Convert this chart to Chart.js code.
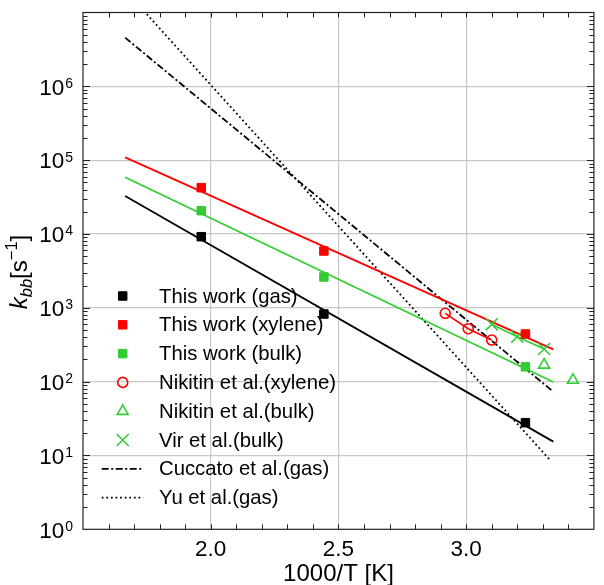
<!DOCTYPE html>
<html><head><meta charset="utf-8">
<script src="https://cdn.jsdelivr.net/npm/chart.js@4/dist/chart.umd.min.js"></script>
<style>html,body{margin:0;padding:0;background:#fff}#wrap{width:604px;height:585px;position:relative}</style>
</head><body><div id="wrap"><canvas id="c" width="604" height="585"></canvas></div>
<script>
// ---------- data ----------
const gasX = [1.963, 2.443, 3.232];
const gasY = [9190, 824, 27.8];
const xylX = [1.963, 2.443, 3.232];
const xylY = [42360, 5880, 442];
const bulkX = [1.963, 2.443, 3.232];
const bulkY = [20670, 2614, 159];
const nikXylX = [2.918, 3.008, 3.100];
const nikXylY = [843, 521, 366];
const nikBulkX = [3.305, 3.418];
const nikBulkY = [168, 105];
const virX = [3.100, 3.200, 3.305];
const virY = [598, 406, 277];
const fitX = [1.665, 3.341];
const fitGasY = [32700, 15.4];
const fitXylY = [109300, 274];
const fitBulkY = [58600, 98.9];
const cuccX = [1.665, 3.341];
const cuccY = [4.56e6, 73.1];
const yuX = [1.665, 3.332];
const yuY = [2.0e7, 8.4];

const xMin = 1.5, xMax = 3.5;
const yMin = 1, yMax = 1e7;
const xTicks = [2.0, 2.5, 3.0];
const xTickLabels = ['2.0', '2.5', '3.0'];
const xMinorStep = 0.1;
const yExponents = [0, 1, 2, 3, 4, 5, 6];
const yTickBase = '10';
const xTitle = '1000/T [K]';
const legendLabels = ['This work (gas)', 'This work (xylene)', 'This work (bulk)',
  'Nikitin et al.(xylene)', 'Nikitin et al.(bulk)', 'Vir et al.(bulk)',
  'Cuccato et al.(gas)', 'Yu et al.(gas)'];

// ---------- styles ----------
const RED = '#ff0000', GREEN = '#33cc33', BLACK = '#000000';
const FONT = '"Liberation Sans", Arial, Helvetica, sans-serif';
const zip = (xs, ys) => xs.map((x, i) => ({x: x, y: ys[i]}));

const datasets = [
  {label: legendLabels[0], data: zip(gasX, gasY), pointStyle: 'rect', pointRadius: 6, backgroundColor: BLACK, borderColor: BLACK, borderWidth: 1, showLine: false, legendIdx: 0},
  {label: legendLabels[1], data: zip(xylX, xylY), pointStyle: 'rect', pointRadius: 6, backgroundColor: RED, borderColor: RED, borderWidth: 1, showLine: false, legendIdx: 1},
  {label: legendLabels[2], data: zip(bulkX, bulkY), pointStyle: 'rect', pointRadius: 6, backgroundColor: GREEN, borderColor: GREEN, borderWidth: 1, showLine: false, legendIdx: 2},
  {label: legendLabels[3], data: zip(nikXylX, nikXylY), pointStyle: 'circle', pointRadius: 5, backgroundColor: 'rgba(0,0,0,0)', borderColor: RED, pointBorderWidth: 1.6, borderWidth: 1.6, showLine: true, legendIdx: 3},
  {label: legendLabels[4], data: zip(nikBulkX, nikBulkY), pointStyle: 'triangle', pointRadius: 6.3, backgroundColor: 'rgba(0,0,0,0)', borderColor: GREEN, borderWidth: 1.6, showLine: false, legendIdx: 4},
  {label: legendLabels[5], data: zip(virX, virY), pointStyle: 'crossRot', pointRadius: 8.5, backgroundColor: 'rgba(0,0,0,0)', borderColor: GREEN, pointBorderWidth: 1.6, borderWidth: 1.6, showLine: true, legendIdx: 5},
  {label: 'fit gas', data: zip(fitX, fitGasY), pointRadius: 0, borderColor: BLACK, borderWidth: 1.8, showLine: true},
  {label: 'fit xylene', data: zip(fitX, fitXylY), pointRadius: 0, borderColor: RED, borderWidth: 1.8, showLine: true},
  {label: 'fit bulk', data: zip(fitX, fitBulkY), pointRadius: 0, borderColor: GREEN, borderWidth: 1.8, showLine: true},
  {label: legendLabels[6], data: zip(cuccX, cuccY), pointRadius: 0, borderColor: BLACK, borderWidth: 1.8, borderDash: [7, 2.5, 2, 2.5], showLine: true, legendIdx: 6},
  {label: legendLabels[7], data: zip(yuX, yuY), pointRadius: 0, borderColor: BLACK, borderWidth: 1.8, borderDash: [1.8, 2.8], showLine: true, clip: 0, legendIdx: 7}
];

function drawMarker(ctx, ds, x, y) {
  const r = ds.pointRadius;
  ctx.save();
  ctx.fillStyle = ds.backgroundColor;
  ctx.strokeStyle = ds.borderColor;
  ctx.lineWidth = ds.pointBorderWidth || ds.borderWidth;
  if (Chart.helpers && Chart.helpers.drawPoint) {
    Chart.helpers.drawPoint(ctx, {pointStyle: ds.pointStyle, radius: r, rotation: 0, borderWidth: ctx.lineWidth}, x, y);
  }
  ctx.restore();
}

const deco = {
  id: 'deco',
  afterDraw(chart) {
    const ctx = chart.ctx, a = chart.chartArea;
    const xs = chart.scales.x, ys = chart.scales.y;
    ctx.save();
    // minor / major ticks (inward)
    ctx.strokeStyle = '#222';
    ctx.lineWidth = 1;
    ctx.beginPath();
    for (let v = xMin + xMinorStep; v < xMax - 1e-9; v += xMinorStep) {
      const px = Math.round(xs.getPixelForValue(v)) + 0.5;
      ctx.moveTo(px, a.bottom); ctx.lineTo(px, a.bottom - 5);
      ctx.moveTo(px, a.top); ctx.lineTo(px, a.top + 5);
    }
    for (let n = 0; n < 7; n++) {
      for (let k = 1; k <= 9; k++) {
        const v = k * Math.pow(10, n);
        if (v <= yMin) continue;
        const py = Math.round(ys.getPixelForValue(v)) + 0.5;
        const len = (k === 1) ? 7 : 4.5;
        ctx.moveTo(a.left, py); ctx.lineTo(a.left + len, py);
        ctx.moveTo(a.right, py); ctx.lineTo(a.right - len, py);
      }
    }
    ctx.stroke();
    // frame
    ctx.strokeStyle = '#222';
    ctx.lineWidth = 1.2;
    ctx.strokeRect(a.left, a.top, a.right - a.left, a.bottom - a.top);

    ctx.fillStyle = '#000';
    // y tick labels 10^n
    yExponents.forEach(n => {
      const py = ys.getPixelForValue(Math.pow(10, n));
      ctx.font = '22.5px ' + FONT;
      const w1 = ctx.measureText(yTickBase).width;
      ctx.font = '14px ' + FONT;
      const e = String(n);
      const w2 = ctx.measureText(e).width;
      const right = 73;
      ctx.textAlign = 'left';
      ctx.textBaseline = 'alphabetic';
      ctx.font = '22.5px ' + FONT;
      ctx.fillText(yTickBase, right - w2 - 1 - w1, py + 8.3);
      ctx.font = '14px ' + FONT;
      ctx.fillText(e, right - w2, py + 1.5);
    });
    // x tick labels
    ctx.font = '22.5px ' + FONT;
    ctx.textAlign = 'center';
    ctx.textBaseline = 'alphabetic';
    xTicks.forEach((v, i) => {
      ctx.fillText(xTickLabels[i], xs.getPixelForValue(v), 555.5);
    });
    // x title
    ctx.font = '24px ' + FONT;
    ctx.fillText(xTitle, (a.left + a.right) / 2, 581);

    // y title: k_bb [s^-1]
    const parts = [
      {t: 'k', f: 'italic 24px ' + FONT, dy: 0},
      {t: 'bb', f: 'italic 16.5px ' + FONT, dy: 5},
      {t: '[s', f: '24px ' + FONT, dy: 0},
      {t: '\u22121', f: '16.5px ' + FONT, dy: -10},
      {t: ']', f: '24px ' + FONT, dy: 0}
    ];
    let tot = 0;
    parts.forEach(p => { ctx.font = p.f; p.w = ctx.measureText(p.t).width; tot += p.w; });
    ctx.save();
    ctx.translate(27, 272);
    ctx.rotate(-Math.PI / 2);
    ctx.textAlign = 'left';
    let cx = -tot / 2;
    parts.forEach(p => { ctx.font = p.f; ctx.fillText(p.t, cx, p.dy); cx += p.w; });
    ctx.restore();

    // legend
    const y0 = 296, dy = 28.8, mx = 122.7, tx = 159, l0 = 101.7, l1 = 143.3;
    ctx.font = '20.3px ' + FONT;
    ctx.textAlign = 'left';
    ctx.textBaseline = 'middle';
    chart.data.datasets.forEach(ds => {
      if (ds.legendIdx === undefined) return;
      const ly = y0 + ds.legendIdx * dy;
      if (ds.pointRadius > 0) {
        drawMarker(ctx, ds, mx, ly);
      } else {
        ctx.save();
        ctx.strokeStyle = ds.borderColor;
        ctx.lineWidth = ds.borderWidth;
        ctx.setLineDash(ds.borderDash || []);
        ctx.beginPath(); ctx.moveTo(l0, ly); ctx.lineTo(l1, ly); ctx.stroke();
        ctx.restore();
      }
      ctx.fillStyle = '#000';
      ctx.fillText(ds.label, tx, ly + 1);
    });
    ctx.restore();
  }
};

Chart.defaults.font.family = FONT;
new Chart(document.getElementById('c'), {
  type: 'scatter',
  data: {datasets: datasets},
  options: {
    responsive: false,
    animation: false,
    devicePixelRatio: 1,
    layout: {padding: {left: 83, top: 12.5, right: 1, bottom: 55.7}},
    plugins: {legend: {display: false}, tooltip: {enabled: false}},
    scales: {
      x: {
        type: 'linear', min: xMin, max: xMax,
        ticks: {display: false},
        border: {display: false},
        grid: {color: '#c8c8c8', lineWidth: 1.2, drawTicks: false},
        afterBuildTicks: s => { s.ticks = xTicks.map(v => ({value: v})); },
        afterFit: s => { s.height = 0; }
      },
      y: {
        type: 'logarithmic', min: yMin, max: yMax,
        ticks: {display: false},
        border: {display: false},
        grid: {color: '#c8c8c8', lineWidth: 1.2, drawTicks: false},
        afterBuildTicks: s => { s.ticks = yExponents.slice(1).map(n => ({value: Math.pow(10, n)})); },
        afterFit: s => { s.width = 0; }
      }
    }
  },
  plugins: [deco]
});
</script>
</body></html>
